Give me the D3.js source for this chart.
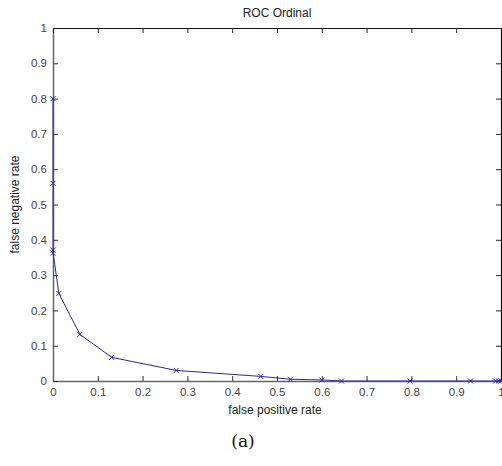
<!DOCTYPE html>
<html><head><meta charset="utf-8">
<script src="https://cdn.jsdelivr.net/npm/d3@7"></script>
<style>body{margin:0;background:#fff}svg{display:block}</style>
</head><body><svg id="c" width="502" height="466"></svg>
<script>
const fpr = [0, 0, 0, 0, 0, 0.004, 0.013, 0.06, 0.131, 0.275, 0.464, 0.53, 0.6, 0.644, 0.797, 0.932, 0.988, 0.995, 1];
const fnr = [0.80, 0.56, 0.45, 0.371, 0.362, 0.33, 0.248, 0.132, 0.067, 0.030, 0.013, 0.005, 0.003, 0, 0, 0, 0, 0, 0];
const xTicks = [0, 0.1, 0.2, 0.3, 0.4, 0.5, 0.6, 0.7, 0.8, 0.9, 1];
const yTicks = [0, 0.1, 0.2, 0.3, 0.4, 0.5, 0.6, 0.7, 0.8, 0.9, 1];
const title = "ROC Ordinal", xLabel = "false positive rate", yLabel = "false negative rate", caption = "(a)";

const svg = d3.select("#c");
const L = 53, R = 501, T = 28, B = 381;
const x = d3.scaleLinear().domain([0, 1]).range([L, R]);
const y = d3.scaleLinear().domain([0, 1]).range([B, T]);
const font = "Arial, 'Liberation Sans', sans-serif";
const fmt = d => d === 0 ? "0" : d === 1 ? "1" : d3.format(".1f")(d);

// bottom axis
const gx = svg.append("g").attr("transform", `translate(0,${B})`)
  .call(d3.axisBottom(x).tickValues(xTicks).tickFormat(fmt).tickSizeInner(-5).tickSizeOuter(0).tickPadding(7));
gx.select(".domain").attr("stroke", "#666").attr("stroke-width", 1.5);
gx.selectAll(".tick line").attr("stroke", "#333");
gx.selectAll("text").attr("font-family", font).attr("font-size", 11.5).attr("fill", "#444");

// left axis
const gy = svg.append("g").attr("transform", `translate(${L},0)`)
  .call(d3.axisLeft(y).tickValues(yTicks).tickFormat(fmt).tickSizeInner(-5).tickSizeOuter(0).tickPadding(6));
gy.select(".domain").attr("stroke", "#666").attr("stroke-width", 1.5);
gy.selectAll(".tick line").attr("stroke", "#333");
gy.selectAll("text").attr("font-family", font).attr("font-size", 11.5).attr("fill", "#444");

// top axis
const gt = svg.append("g").attr("transform", `translate(0,${T})`)
  .call(d3.axisTop(x).tickValues(xTicks).tickFormat("").tickSizeInner(-5).tickSizeOuter(0));
gt.select(".domain").attr("stroke", "#111").attr("stroke-width", 1.2);
gt.selectAll(".tick line").attr("stroke", "#222");

// right axis
const gr = svg.append("g").attr("transform", `translate(${R},0)`)
  .call(d3.axisRight(y).tickValues(yTicks).tickFormat("").tickSizeInner(-5).tickSizeOuter(0));
gr.select(".domain").attr("stroke", "#111").attr("stroke-width", 1.2);
gr.selectAll(".tick line").attr("stroke", "#222");

// curve
const pts = fpr.map((v, i) => [v, fnr[i]]);
const col = "#2a2a96";
svg.append("path").datum(pts)
  .attr("fill", "none").attr("stroke", col).attr("stroke-width", 1)
  .attr("d", d3.line().x(d => x(d[0])).y(d => y(d[1])));

const s = 2.5;
svg.append("g").selectAll("path").data(pts.filter((d, i) => i !== 2 && i !== 5)).join("path")
  .attr("d", d => `M${x(d[0]) - s},${y(d[1]) - s}L${x(d[0]) + s},${y(d[1]) + s}M${x(d[0]) - s},${y(d[1]) + s}L${x(d[0]) + s},${y(d[1]) - s}`)
  .attr("stroke", col).attr("stroke-width", 1).attr("fill", "none");

// texts
svg.append("text").attr("x", (L + R) / 2).attr("y", 17).attr("text-anchor", "middle")
  .attr("font-family", font).attr("font-size", 12).attr("fill", "#222").text(title);
svg.append("text").attr("x", 275).attr("y", 414).attr("text-anchor", "middle")
  .attr("font-family", font).attr("font-size", 12).attr("fill", "#222").text(xLabel);
svg.append("text").attr("transform", `translate(19,${(T + B) / 2}) rotate(-90)`).attr("text-anchor", "middle")
  .attr("font-family", font).attr("font-size", 12).attr("fill", "#222").text(yLabel);
svg.append("text").attr("x", 243).attr("y", 447).attr("text-anchor", "middle")
  .attr("font-family", "'DejaVu Serif', 'Liberation Serif', serif").attr("font-size", 17).attr("fill", "#111").text(caption);
</script></body></html>
